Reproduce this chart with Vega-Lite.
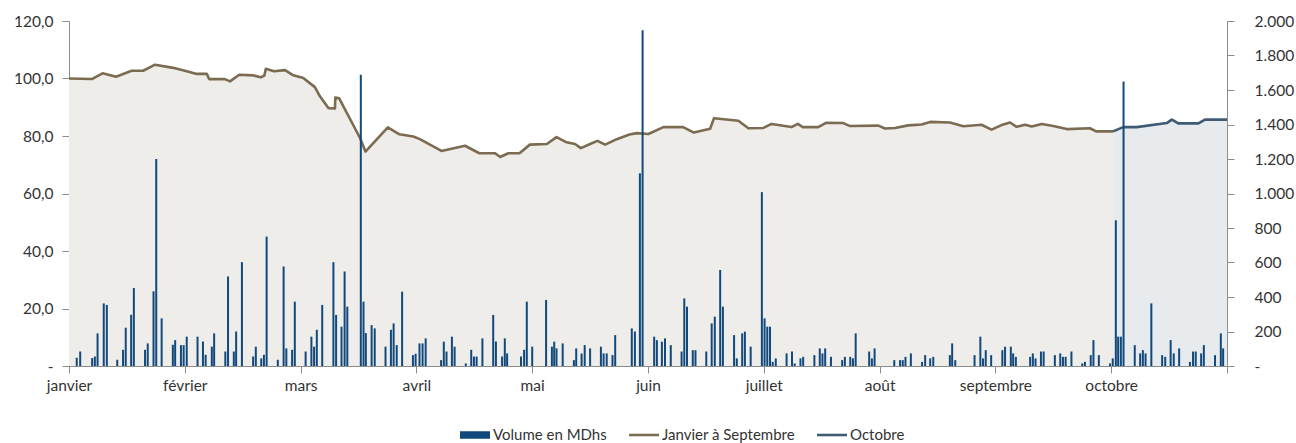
{
  "$schema": "https://vega.github.io/schema/vega-lite/v6.json",
  "width": 1158,
  "height": 345,
  "autosize": {"type": "none"},
  "padding": {"left": 69, "top": 21, "right": 69, "bottom": 77},
  "background": "white",
  "config": {
    "view": {"stroke": null},
    "font": "Lato",
    "axis": {
      "labelFont": "Lato",
      "labelFontSize": 15.5,
      "labelColor": "#333333",
      "domainColor": "#8c8c8c",
      "tickColor": "#8c8c8c",
      "tickSize": 7,
      "grid": false,
      "title": null
    }
  },
  "datasets": {
    "volume": [
      {"t":2.0,"v":48},{"t":2.9,"v":84},{"t":6.0,"v":46},{"t":6.7,"v":55},{"t":7.4,"v":189},{"t":9.0,"v":363},{"t":9.8,"v":354},
      {"t":12.5,"v":36},{"t":14.0,"v":94},{"t":14.7,"v":222},{"t":16.1,"v":297},{"t":16.8,"v":452},{"t":19.7,"v":94},{"t":20.4,"v":131},
      {"t":21.9,"v":433},{"t":22.6,"v":1200},{"t":24.0,"v":276},{"t":26.9,"v":123},{"t":27.5,"v":150},{"t":29.0,"v":121},{"t":29.7,"v":121},
      {"t":30.5,"v":170},{"t":33.3,"v":170},{"t":34.7,"v":142},{"t":35.4,"v":65},{"t":37.0,"v":112},{"t":37.6,"v":189},{"t":40.5,"v":84},
      {"t":41.2,"v":519},{"t":42.7,"v":84},{"t":43.3,"v":200},{"t":44.8,"v":602},{"t":47.7,"v":55},{"t":48.4,"v":112},{"t":49.8,"v":44},
      {"t":50.5,"v":65},{"t":51.2,"v":750},{"t":54.1,"v":36},{"t":55.6,"v":577},{"t":56.3,"v":102},{"t":57.8,"v":94},{"t":58.5,"v":373},
      {"t":61.3,"v":84},{"t":62.8,"v":170},{"t":63.5,"v":112},{"t":64.2,"v":210},{"t":65.6,"v":354},{"t":68.5,"v":602},{"t":69.2,"v":296},
      {"t":70.6,"v":228},{"t":71.4,"v":548},{"t":72.1,"v":344},{"t":75.6,"v":1688},{"t":76.3,"v":373},{"t":76.9,"v":191},{"t":78.4,"v":237},
      {"t":79.2,"v":218},{"t":82.0,"v":112},{"t":83.4,"v":210},{"t":84.1,"v":247},{"t":84.9,"v":121},{"t":86.3,"v":431},{"t":89.1,"v":63},
      {"t":89.8,"v":71},{"t":90.8,"v":131},{"t":91.6,"v":131},{"t":92.4,"v":160},{"t":96.4,"v":34},{"t":97.1,"v":141},{"t":97.8,"v":84},
      {"t":99.2,"v":170},{"t":99.9,"v":112},{"t":102.8,"v":15},{"t":104.2,"v":94},{"t":104.9,"v":55},{"t":105.6,"v":55},{"t":107.1,"v":160},
      {"t":109.9,"v":296},{"t":110.6,"v":142},{"t":112.2,"v":55},{"t":112.9,"v":160},{"t":113.5,"v":73},{"t":117.1,"v":55},{"t":117.9,"v":94},
      {"t":118.6,"v":373},{"t":120.0,"v":112},{"t":123.6,"v":383},{"t":125.1,"v":112},{"t":125.7,"v":141},{"t":126.3,"v":102},{"t":127.9,"v":131},
      {"t":130.8,"v":34},{"t":131.4,"v":102},{"t":132.8,"v":73},{"t":133.6,"v":121},{"t":135.0,"v":102},{"t":137.8,"v":112},{"t":138.5,"v":73},
      {"t":139.3,"v":73},{"t":140.8,"v":63},{"t":141.5,"v":179},{"t":145.8,"v":218},{"t":146.6,"v":200},{"t":147.9,"v":1117},{"t":148.6,"v":1947},
      {"t":151.6,"v":170},{"t":152.3,"v":150},{"t":153.6,"v":141},{"t":154.4,"v":160},{"t":155.9,"v":121},{"t":158.7,"v":84},{"t":159.4,"v":392},
      {"t":160.1,"v":344},{"t":161.6,"v":92},{"t":162.3,"v":92},{"t":165.1,"v":84},{"t":166.5,"v":247},{"t":167.3,"v":286},{"t":168.7,"v":557},
      {"t":169.4,"v":344},{"t":172.3,"v":179},{"t":173.0,"v":44},{"t":174.4,"v":189},{"t":175.1,"v":199},{"t":176.6,"v":112},{"t":179.5,"v":1008},
      {"t":180.2,"v":276},{"t":180.9,"v":228},{"t":181.6,"v":228},{"t":182.3,"v":24},{"t":183.1,"v":44},{"t":185.9,"v":73},{"t":187.3,"v":84},
      {"t":188.0,"v":15},{"t":189.5,"v":44},{"t":190.2,"v":53},{"t":193.1,"v":63},{"t":194.5,"v":102},{"t":195.2,"v":73},{"t":195.9,"v":102},
      {"t":197.4,"v":53},{"t":200.3,"v":34},{"t":201.0,"v":53},{"t":202.4,"v":53},{"t":203.1,"v":44},{"t":203.8,"v":189},{"t":207.3,"v":84},
      {"t":208.0,"v":44},{"t":208.7,"v":102},{"t":213.8,"v":34},{"t":215.3,"v":34},{"t":216.0,"v":34},{"t":216.7,"v":53},{"t":218.1,"v":73},
      {"t":221.0,"v":24},{"t":221.8,"v":63},{"t":223.1,"v":44},{"t":223.9,"v":53},{"t":228.2,"v":63},{"t":228.8,"v":131},{"t":229.6,"v":34},
      {"t":234.6,"v":63},{"t":236.1,"v":170},{"t":236.8,"v":44},{"t":237.5,"v":92},{"t":238.9,"v":63},{"t":241.8,"v":92},{"t":242.5,"v":112},
      {"t":244.0,"v":112},{"t":244.6,"v":73},{"t":245.3,"v":53},{"t":249.0,"v":53},{"t":249.7,"v":73},{"t":250.4,"v":44},{"t":251.8,"v":84},
      {"t":252.5,"v":84},{"t":255.4,"v":63},{"t":256.8,"v":73},{"t":257.5,"v":53},{"t":258.2,"v":53},{"t":259.7,"v":84},{"t":262.5,"v":15},
      {"t":263.2,"v":24},{"t":264.7,"v":63},{"t":265.4,"v":150},{"t":266.8,"v":63},{"t":269.7,"v":15},{"t":270.4,"v":44},{"t":271.2,"v":845},
      {"t":271.8,"v":170},{"t":272.5,"v":170},{"t":273.2,"v":1650},{"t":276.1,"v":121},{"t":277.5,"v":73},{"t":278.2,"v":92},{"t":278.9,"v":73},
      {"t":280.4,"v":363},{"t":283.2,"v":63},{"t":284.0,"v":53},{"t":285.4,"v":150},{"t":286.2,"v":73},{"t":287.6,"v":102},{"t":290.4,"v":24},
      {"t":291.2,"v":84},{"t":291.9,"v":84},{"t":293.3,"v":73},{"t":294.0,"v":121},{"t":296.9,"v":63},{"t":298.4,"v":189},{"t":299.0,"v":102}
    ],
    "indice": [
      {"t":0,"v":100.0,"s":"Janvier à Septembre"},{"t":5.9,"v":99.8,"s":"Janvier à Septembre"},{"t":8.7,"v":101.8,"s":"Janvier à Septembre"},
      {"t":12.2,"v":100.6,"s":"Janvier à Septembre"},{"t":16.2,"v":102.7,"s":"Janvier à Septembre"},{"t":19.2,"v":102.7,"s":"Janvier à Septembre"},
      {"t":22.3,"v":104.8,"s":"Janvier à Septembre"},{"t":27.0,"v":103.7,"s":"Janvier à Septembre"},{"t":30.5,"v":102.5,"s":"Janvier à Septembre"},
      {"t":33.1,"v":101.6,"s":"Janvier à Septembre"},{"t":35.7,"v":101.6,"s":"Janvier à Septembre"},{"t":36.3,"v":99.8,"s":"Janvier à Septembre"},
      {"t":40.4,"v":99.8,"s":"Janvier à Septembre"},{"t":41.7,"v":99.0,"s":"Janvier à Septembre"},{"t":44.1,"v":101.3,"s":"Janvier à Septembre"},
      {"t":47.7,"v":101.1,"s":"Janvier à Septembre"},{"t":49.7,"v":100.4,"s":"Janvier à Septembre"},{"t":50.6,"v":101.0,"s":"Janvier à Septembre"},
      {"t":51.0,"v":103.4,"s":"Janvier à Septembre"},{"t":53.1,"v":102.5,"s":"Janvier à Septembre"},{"t":56.0,"v":102.9,"s":"Janvier à Septembre"},
      {"t":58.1,"v":101.1,"s":"Janvier à Septembre"},{"t":60.7,"v":100.2,"s":"Janvier à Septembre"},{"t":63.7,"v":97.0,"s":"Janvier à Septembre"},
      {"t":65.0,"v":93.8,"s":"Janvier à Septembre"},{"t":67.2,"v":89.7,"s":"Janvier à Septembre"},{"t":68.9,"v":89.6,"s":"Janvier à Septembre"},
      {"t":69.0,"v":93.4,"s":"Janvier à Septembre"},{"t":70.0,"v":93.1,"s":"Janvier à Septembre"},{"t":75.4,"v":79.3,"s":"Janvier à Septembre"},
      {"t":76.8,"v":74.6,"s":"Janvier à Septembre"},{"t":82.6,"v":83.0,"s":"Janvier à Septembre"},{"t":85.6,"v":80.6,"s":"Janvier à Septembre"},
      {"t":89.2,"v":79.8,"s":"Janvier à Septembre"},{"t":90.9,"v":78.9,"s":"Janvier à Septembre"},{"t":96.5,"v":74.8,"s":"Janvier à Septembre"},
      {"t":102.6,"v":76.6,"s":"Janvier à Septembre"},{"t":106.3,"v":74.0,"s":"Janvier à Septembre"},{"t":110.4,"v":74.0,"s":"Janvier à Septembre"},
      {"t":111.7,"v":72.7,"s":"Janvier à Septembre"},{"t":113.8,"v":74.0,"s":"Janvier à Septembre"},{"t":116.7,"v":74.0,"s":"Janvier à Septembre"},
      {"t":119.4,"v":77.0,"s":"Janvier à Septembre"},{"t":123.8,"v":77.2,"s":"Janvier à Septembre"},{"t":126.3,"v":79.6,"s":"Janvier à Septembre"},
      {"t":128.9,"v":77.8,"s":"Janvier à Septembre"},{"t":131.1,"v":77.2,"s":"Janvier à Septembre"},{"t":132.6,"v":75.8,"s":"Janvier à Septembre"},
      {"t":135.0,"v":77.2,"s":"Janvier à Septembre"},{"t":136.9,"v":78.3,"s":"Janvier à Septembre"},{"t":138.9,"v":77.0,"s":"Janvier à Septembre"},
      {"t":141.9,"v":78.9,"s":"Janvier à Septembre"},{"t":145.2,"v":80.5,"s":"Janvier à Septembre"},{"t":147.1,"v":81.0,"s":"Janvier à Septembre"},
      {"t":150.1,"v":80.7,"s":"Janvier à Septembre"},{"t":154.0,"v":83.1,"s":"Janvier à Septembre"},{"t":159.1,"v":83.1,"s":"Janvier à Septembre"},
      {"t":161.9,"v":81.2,"s":"Janvier à Septembre"},{"t":166.1,"v":82.5,"s":"Janvier à Septembre"},{"t":167.1,"v":86.2,"s":"Janvier à Septembre"},
      {"t":173.4,"v":85.3,"s":"Janvier à Septembre"},{"t":176.0,"v":82.7,"s":"Janvier à Septembre"},{"t":179.9,"v":82.8,"s":"Janvier à Septembre"},
      {"t":182.0,"v":84.2,"s":"Janvier à Septembre"},{"t":187.2,"v":83.1,"s":"Janvier à Septembre"},{"t":188.8,"v":84.2,"s":"Janvier à Septembre"},
      {"t":190.1,"v":83.1,"s":"Janvier à Septembre"},{"t":194.1,"v":83.1,"s":"Janvier à Septembre"},{"t":196.1,"v":84.6,"s":"Janvier à Septembre"},
      {"t":200.6,"v":84.5,"s":"Janvier à Septembre"},{"t":202.2,"v":83.5,"s":"Janvier à Septembre"},{"t":209.7,"v":83.6,"s":"Janvier à Septembre"},
      {"t":211.4,"v":82.6,"s":"Janvier à Septembre"},{"t":214.0,"v":82.8,"s":"Janvier à Septembre"},{"t":217.4,"v":83.7,"s":"Janvier à Septembre"},
      {"t":220.9,"v":84.0,"s":"Janvier à Septembre"},{"t":223.1,"v":84.9,"s":"Janvier à Septembre"},{"t":228.2,"v":84.7,"s":"Janvier à Septembre"},
      {"t":231.7,"v":83.4,"s":"Janvier à Septembre"},{"t":236.4,"v":83.9,"s":"Janvier à Septembre"},{"t":239.0,"v":82.2,"s":"Janvier à Septembre"},
      {"t":241.6,"v":83.8,"s":"Janvier à Septembre"},{"t":243.8,"v":84.7,"s":"Janvier à Septembre"},{"t":245.5,"v":83.2,"s":"Janvier à Septembre"},
      {"t":247.7,"v":83.9,"s":"Janvier à Septembre"},{"t":249.4,"v":83.3,"s":"Janvier à Septembre"},{"t":252.0,"v":84.2,"s":"Janvier à Septembre"},
      {"t":255.0,"v":83.5,"s":"Janvier à Septembre"},{"t":258.5,"v":82.4,"s":"Janvier à Septembre"},{"t":264.5,"v":82.7,"s":"Janvier à Septembre"},
      {"t":266.1,"v":81.6,"s":"Janvier à Septembre"},{"t":270.5,"v":81.6,"s":"Janvier à Septembre"},
      {"t":270.5,"v":81.6,"s":"Octobre"},{"t":273.1,"v":83.1,"s":"Octobre"},{"t":276.6,"v":83.1,"s":"Octobre"},
      {"t":284.4,"v":84.5,"s":"Octobre"},{"t":285.7,"v":85.7,"s":"Octobre"},{"t":287.4,"v":84.4,"s":"Octobre"},
      {"t":292.6,"v":84.4,"s":"Octobre"},{"t":294.3,"v":85.7,"s":"Octobre"},{"t":300,"v":85.7,"s":"Octobre"}
    ]
  },
  "encoding": {
    "x": {
      "field": "t",
      "type": "quantitative",
      "scale": {"domain": [0, 300], "nice": false, "zero": false, "padding": 0},
      "axis": {
        "values": [0, 30, 60, 90, 120, 150, 180, 210, 240, 270, 300],
        "labelExpr": "['janvier','février','mars','avril','mai','juin','juillet','août','septembre','octobre',''][round(datum.value/30)]",
        "labelOverlap": false,
        "labelFlush": false,
        "labelPadding": 5
      }
    }
  },
  "layer": [
    {
      "data": {"name": "indice"},
      "layer": [
        {
          "transform": [{"filter": "datum.s === 'Janvier à Septembre'"}],
          "mark": {"type": "area", "color": "#eeedea", "opacity": 1},
          "encoding": {"y": {"field": "v", "type": "quantitative"}}
        },
        {
          "transform": [{"filter": "datum.s === 'Octobre'"}],
          "mark": {"type": "area", "color": "#e8ebee", "opacity": 1},
          "encoding": {"y": {"field": "v", "type": "quantitative"}}
        },
        {
          "mark": {"type": "line", "strokeWidth": 2.6, "strokeJoin": "round"},
          "encoding": {
            "y": {
              "field": "v",
              "type": "quantitative",
              "scale": {"domain": [0, 120], "nice": false},
              "axis": {
                "orient": "left",
                "values": [0, 20, 40, 60, 80, 100, 120],
                "labelExpr": "datum.value == 0 ? '-' : replace(format(datum.value, '.1f'), '.', ',')",
                "labelPadding": 9
              }
            },
            "color": {
              "field": "s",
              "type": "nominal",
              "scale": {
                "domain": ["Volume en MDhs", "Janvier à Septembre", "Octobre"],
                "range": ["#11497c", "#7b6b51", "#3f5b74"]
              },
              "legend": {
                "orient": "none",
                "legendX": 391,
                "legendY": 399,
                "direction": "horizontal",
                "title": null,
                "symbolSize": 900,
                "symbolStrokeWidth": 0,
                "labelFont": "Lato",
                "labelFontSize": 15,
                "labelColor": "#333333",
                "labelOffset": 3,
                "columnPadding": 22,
                "encode": {
                  "symbols": {
                    "update": {
                      "shape": {"signal": "datum.value === 'Volume en MDhs' ? 'M-1,-0.25H1V0.25H-1Z' : 'M-1,-0.085H1V0.085H-1Z'"},
                      "fill": {"signal": "scale('color', datum.value)"},
                      "opacity": {"value": 1},
                      "strokeWidth": {"value": 0}
                    }
                  }
                }
              }
            }
          }
        }
      ]
    },
    {
      "data": {"name": "volume"},
      "mark": {"type": "bar", "size": 2},
      "encoding": {
        "y": {
          "field": "v",
          "type": "quantitative",
          "scale": {"domain": [0, 2000], "nice": false},
          "axis": {
            "orient": "right",
            "values": [0, 200, 400, 600, 800, 1000, 1200, 1400, 1600, 1800, 2000],
            "labelExpr": "datum.value == 0 ? '-' : replace(format(datum.value, ','), ',', '.')",
            "labelPadding": 20,
            "labelAlign": "left"
          }
        },
        "color": {"datum": "Volume en MDhs", "type": "nominal"}
      }
    }
  ],
  "resolve": {"scale": {"y": "independent"}}
}
